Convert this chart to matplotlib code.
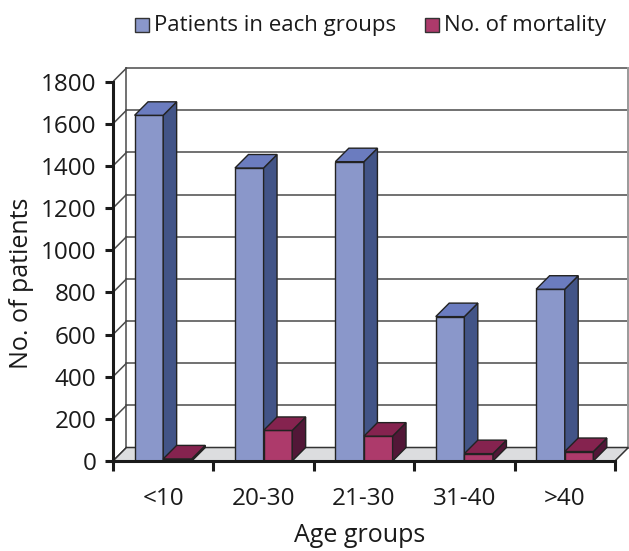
import matplotlib
matplotlib.use('Agg')
import matplotlib.pyplot as plt
from matplotlib.patches import Polygon, Rectangle
import numpy as np

categories = ['<10', '20-30', '21-30', '31-40', '>40']
patients = [1640, 1390, 1420, 685, 815]
mortality = [10, 145, 118, 35, 45]
series_names = ['Patients in each groups', 'No. of mortality']
yticks = list(range(0, 1801, 200))
x_label = 'Age groups'
y_label = 'No. of patients'

plt.rcParams['font.family'] = ['Open Sans', 'DejaVu Sans']

fig = plt.figure(figsize=(6.29, 5.51), dpi=100)
ax = fig.add_axes([113/629, 90/551, 516/629, 400.5/551])
ax.set_xlim(-0.5, 4.64)
ax.set_ylim(0, 1900)
ax.patch.set_visible(False)

DX, DY = 0.134, 64  # 3-D depth offsets
n = len(categories)
x0, x1 = -0.5, n - 0.5
ymax = yticks[-1]

grid_c = '#4a4a4a'
for v in yticks:
    ax.plot([x0 + DX, x1 + DX], [v + DY, v + DY], color=grid_c, lw=1.1, zorder=1)
    ax.plot([x0, x0 + DX], [v, v + DY], color=grid_c, lw=1.1, zorder=1)
ax.plot([x0 + DX, x0 + DX], [DY, ymax + DY], color=grid_c, lw=1.1, zorder=1)
ax.plot([x1 + DX, x1 + DX], [DY, ymax + DY], color='#9a9a9a', lw=1.4, zorder=1)

floor = Polygon([(x0, 0), (x1, 0), (x1 + DX, DY), (x0 + DX, DY)], closed=True,
                facecolor='#DCDDDF', edgecolor='#333333', lw=1.1, zorder=2)
ax.add_patch(floor)

W = 0.285
offs = [-0.285, 0.0]
series = [patients, mortality]
colors = [('#8A97CA', '#425487', '#6B7CBF'), ('#AD3A6B', '#521737', '#85234F')]
ec = '#222222'
z = 3
for i in range(n):
    for s, vals in enumerate(series):
        v = vals[i]
        left = i + offs[s]
        front, side, top = colors[s]
        ax.bar(left, v, width=W, align='edge', color=front, edgecolor=ec, lw=1.0, zorder=z)
        ax.add_patch(Polygon([(left + W, 0), (left + W + DX, DY), (left + W + DX, v + DY), (left + W, v)],
                             closed=True, fc=side, ec=ec, lw=1.0, zorder=z))
        ax.add_patch(Polygon([(left, v), (left + W, v), (left + W + DX, v + DY), (left + DX, v + DY)],
                             closed=True, fc=top, ec=ec, lw=1.0, zorder=z))
        z += 1

for sp in ['top', 'right']:
    ax.spines[sp].set_visible(False)
ax.spines['left'].set_bounds(0, ymax)
ax.spines['bottom'].set_bounds(x0, x1)
for sp in ['left', 'bottom']:
    ax.spines[sp].set_linewidth(2.2)
    ax.spines[sp].set_color('#1a1a1a')
    ax.spines[sp].set_zorder(50)

ax.set_yticks(yticks)
ax.set_yticklabels([str(t) for t in yticks])
ax.tick_params(axis='y', direction='out', length=6, width=2.2, labelsize=17.5, pad=6, colors='#1a1a1a')
ax.set_xticks(np.arange(x0, x1 + 0.01, 1.0))
ax.set_xticklabels([])
ax.set_xticks(range(n), minor=True)
ax.set_xticklabels(categories, minor=True)
ax.tick_params(axis='x', which='major', direction='out', length=7, width=2.2, colors='#1a1a1a')
ax.tick_params(axis='x', which='minor', length=0, pad=19, labelsize=17.5, labelcolor='#1a1a1a')

fig.text(22/629, (551-283)/551, y_label, rotation=90, ha='center', va='center', fontsize=18, color='#1a1a1a')
fig.text(360/629, 9/551, x_label, ha='center', va='baseline', fontsize=18, color='#1a1a1a')

# legend
leg_sq = [135, 425]
leg_tx = [154, 444]
for k in range(2):
    fig.patches.append(Rectangle((leg_sq[k]/629, (551-32)/551), 14/629, 14/551,
                                 transform=fig.transFigure, fc=colors[k][0], ec='#333333', lw=1.0))
    fig.text(leg_tx[k]/629, (551-25)/551, series_names[k], ha='left', va='center', fontsize=16, color='#1a1a1a')

fig.savefig('out.png', dpi=100)
